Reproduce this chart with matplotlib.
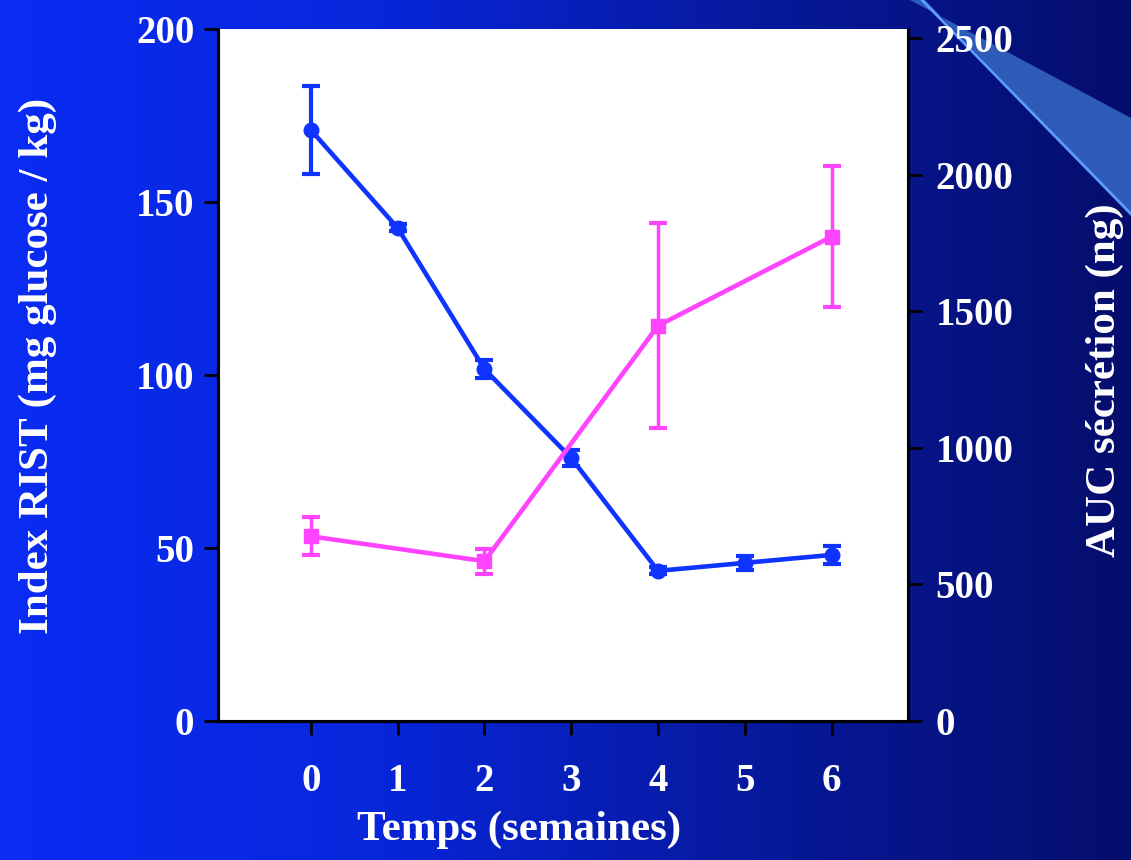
import matplotlib
matplotlib.use('Agg')
import matplotlib.pyplot as plt
import numpy as np
from matplotlib.colors import LinearSegmentedColormap
from matplotlib.patches import Polygon

# Index RIST (left axis)
weeks = [0, 1, 2, 3, 4, 5, 6]
rist = [170.8, 142.5, 101.7, 76.0, 43.4, 45.7, 48.0]
rist_err = [12.8, 1.0, 2.5, 2.3, 1.0, 2.0, 2.5]

# AUC secretion (right axis)
auc_weeks = [0, 2, 4, 6]
auc = [676, 585, 1447, 1773]
auc_err = [69, 46, 375, 258]

left_ticks = [0, 50, 100, 150, 200]
right_ticks = [0, 500, 1000, 1500, 2000, 2500]

blue = '#1034ff'
pink = '#ff44ff'
font = 'Liberation Serif'

W, H = 1131, 860
fig = plt.figure(figsize=(W / 100, H / 100), dpi=100)

# slide background: horizontal blue gradient
bg = fig.add_axes([0, 0, 1, 1])
cmap = LinearSegmentedColormap.from_list('slide', ['#0a2cf4', '#0826da', '#07199c', '#050e6c'])
grad = np.linspace(0, 1, 256).reshape(1, -1)
bg.imshow(grad, cmap=cmap, aspect='auto', extent=[0, W, H, 0])
bg.set_xlim(0, W)
bg.set_ylim(H, 0)
bg.axis('off')
# decorative stripe top right
bg.add_patch(Polygon([[910, 0], [925, 0], [1131, 214], [1131, 118]],
                     closed=True, facecolor='#2f5bb8', edgecolor='none'))
bg.plot([922, 1131], [0, 214], color='#5a9cff', lw=2)

ax = fig.add_axes([218 / W, 1 - 721 / H, (908 - 218) / W, (721 - 29) / H])
ax.set_facecolor('white')
ax.set_xlim(-1.07, 6.88)
ax.set_ylim(0, 200)

ax.errorbar(weeks, rist, yerr=rist_err, color=blue, marker='o', markersize=10.5,
            lw=3.3, elinewidth=3, capsize=6.5, capthick=3, zorder=3)

ax2 = ax.twinx()
ax2.set_ylim(0, 2500 * (722 - 29) / (722 - 38))
ax2.errorbar(auc_weeks, auc, yerr=auc_err, color=pink, marker='s', markersize=10.5,
             lw=3.3, elinewidth=2.5, capsize=6.5, capthick=3, zorder=3)

for a in (ax, ax2):
    a.spines['top'].set_visible(False)
    for s in a.spines.values():
        s.set_linewidth(2.2)
        s.set_color('black')

ax.set_xticks(weeks)
ax.set_xticklabels([str(w) for w in weeks])
ax.set_yticks(left_ticks)
ax2.set_yticks(right_ticks)

ax.tick_params(axis='x', direction='out', length=10, width=2, pad=20,
               labelsize=28, labelcolor='white', colors='black')
ax.tick_params(axis='y', direction='out', length=10, width=2, pad=7,
               labelsize=28, labelcolor='white', colors='black')
ax2.tick_params(axis='y', direction='out', length=10, width=2, pad=10,
                labelsize=28, labelcolor='white', colors='black')
for lab in ax.get_xticklabels() + ax.get_yticklabels() + ax2.get_yticklabels():
    lab.set_fontfamily(font)
    lab.set_fontweight('bold')
    lab.set_color('white')

fig.text(38 / W, 1 - 366 / H, 'Index RIST (mg glucose / kg)', rotation=90,
         ha='center', va='center', color='white', fontsize=31,
         fontweight='bold', family=font)
fig.text(1105 / W, 1 - 380 / H, 'AUC sécrétion (ng)', rotation=90,
         ha='center', va='center', color='white', fontsize=31,
         fontweight='bold', family=font)
fig.text(519 / W, 1 - 830 / H, 'Temps (semaines)', ha='center', va='center',
         color='white', fontsize=31, fontweight='bold', family=font)

fig.savefig('out.png', dpi=100)
